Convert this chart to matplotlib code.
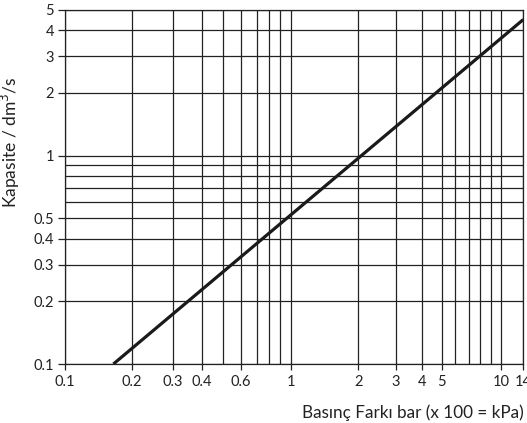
import numpy as np
import matplotlib.pyplot as plt

plt.rcParams['font.family'] = ['Lato', 'DejaVu Sans']

# kapasite egrisi (uc noktalar)
basinc = [0.165, 14]
kapasite = [0.1, 4.5]

x_labels = [0.1, 0.2, 0.3, 0.4, 0.6, 1, 2, 3, 4, 5, 10, 14]
x_minor = [0.5, 0.7, 0.8, 0.9, 6, 7, 8, 9]
y_labels = [0.1, 0.2, 0.3, 0.4, 0.5, 1, 2, 3, 4, 5]
y_minor = [0.6, 0.7, 0.8, 0.9]

# orijinal skala logaritmik degil (1'den sonra sikisiyor), cizgi yerleri
olcek_deger = [0.1, 0.2, 0.3, 0.4, 0.5, 0.6, 0.7, 0.8, 0.9, 1,
               2, 3, 4, 5, 6, 7, 8, 9, 10, 14]
olcek_px = [65, 132, 173, 202, 222.7, 240.7, 257, 268.7, 280, 290.5,
            358.3, 395.7, 422.3, 441.5, 455, 468.5, 480, 490.8, 501, 523.3]

lv = np.log10(olcek_deger)
fr = (np.array(olcek_px) - 65) / (523.3 - 65)


def _interp(v, xp, fp):
    v = np.asarray(v, dtype=float)
    out = np.interp(v, xp, fp)
    lo = v < xp[0]
    hi = v > xp[-1]
    out = np.where(lo, fp[0] + (v - xp[0]) * (fp[1] - fp[0]) / (xp[1] - xp[0]), out)
    out = np.where(hi, fp[-1] + (v - xp[-1]) * (fp[-1] - fp[-2]) / (xp[-1] - xp[-2]), out)
    return out


def ileri(x):
    x = np.clip(np.asarray(x, dtype=float), 1e-6, None)
    return _interp(np.log10(x), lv, fr)


def geri(f):
    return 10 ** _interp(f, fr, lv)


fig = plt.figure(figsize=(5.27, 4.23), dpi=100)
ax = fig.add_axes([65 / 527, 59 / 423, (523.3 - 65) / 527, 354 / 423])

ax.set_xscale('function', functions=(ileri, geri))
ax.set_yscale('log')
ax.set_xlim(0.1, 14)
ax.set_ylim(0.1, 5)

renk = '#222222'
ax.set_xticks(x_labels)
ax.set_xticklabels([f"{v:g}" for v in x_labels])
ax.set_xticks(x_minor, minor=True)
ax.set_yticks(y_labels)
ax.set_yticklabels([f"{v:g}" for v in y_labels])
ax.set_yticks(y_minor, minor=True)
ax.xaxis.set_minor_formatter(plt.NullFormatter())
ax.yaxis.set_minor_formatter(plt.NullFormatter())

ax.grid(True, which='both', color=renk, lw=0.9)
ax.tick_params(which='major', axis='y', length=5, width=0.9, color=renk, pad=3,
               labelsize=10.5, labelcolor='#222222')
ax.tick_params(which='major', axis='x', length=4, width=0.9, color=renk, pad=4,
               labelsize=10.5, labelcolor='#222222')
ax.tick_params(which='minor', length=0)
for s in ax.spines.values():
    s.set_color(renk)
    s.set_linewidth(0.9)

ax.plot(basinc, kapasite, color='#1a1a1a', lw=2.3, solid_capstyle='butt', zorder=5)

ax.set_ylabel("Kapasite / dm$^3$/s", fontsize=12.5, color='#222222')
ax.yaxis.set_label_coords(-0.093, 0.627)
fig.text(302 / 527, 1 - 413 / 423, "Basınç Farkı bar (x 100 = kPa)",
         fontsize=12.3, color='#222222', ha='left', va='center')

fig.savefig("out.png", dpi=100)
